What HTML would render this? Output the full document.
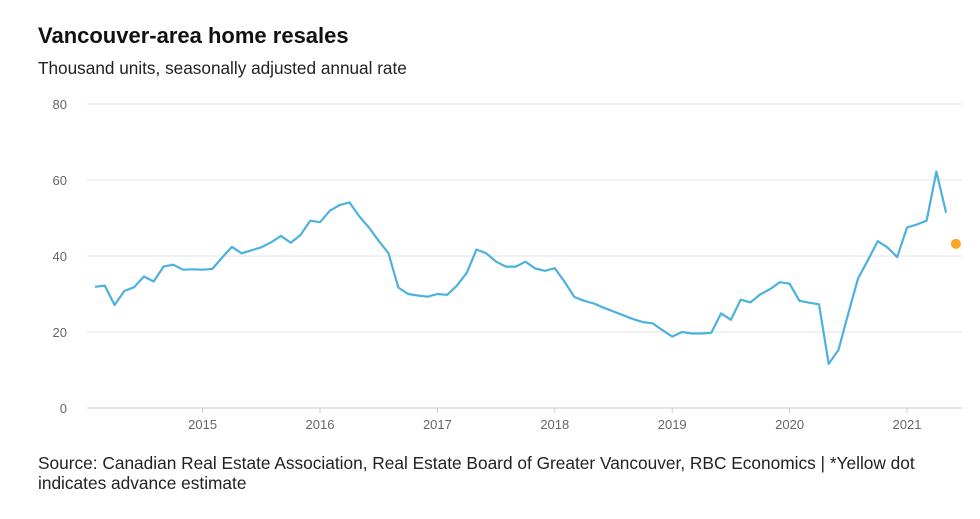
<!DOCTYPE html>
<html><head><meta charset="utf-8"><style>
body{margin:0;background:#fff;font-family:"Liberation Sans",Arial,sans-serif;}
#wrap{position:relative;width:980px;height:519px;overflow:hidden;}
h1{position:absolute;left:38px;top:23px;margin:0;font-size:22px;font-weight:bold;color:#111;}
.sub{position:absolute;left:38px;top:58px;font-size:17.2px;color:#222;}
.src{position:absolute;left:38px;top:453px;font-size:17.3px;color:#222;line-height:20px;width:900px;}
svg{position:absolute;left:0;top:0;}
</style></head><body>
<div id="wrap">
<h1>Vancouver-area home resales</h1>
<div class="sub">Thousand units, seasonally adjusted annual rate</div>
<svg id="svg" width="980" height="519"></svg>
<div class="src">Source: Canadian Real Estate Association, Real Estate Board of Greater Vancouver, RBC Economics | *Yellow dot indicates advance estimate</div>
</div>
<script>
const yTicks=[0,20,40,60,80];
const years=[2015,2016,2017,2018,2019,2020,2021];
const startYear=2014, startMonth=1; // Feb 2014 (0-based month)
const values=[31.9,32.2,27.1,30.8,31.8,34.6,33.3,37.2,37.7,36.4,36.5,
36.4,36.6,39.6,42.4,40.7,41.5,42.3,43.6,45.3,43.5,45.5,49.3,
48.9,51.9,53.4,54.1,50.5,47.5,44.0,40.7,31.7,30.0,29.6,29.3,
30.0,29.8,32.2,35.6,41.7,40.7,38.5,37.2,37.2,38.5,36.7,36.1,
36.8,33.2,29.2,28.2,27.5,26.4,25.4,24.4,23.4,22.6,22.3,20.5,
18.8,20.0,19.6,19.6,19.8,24.9,23.2,28.5,27.8,29.9,31.3,33.1,
32.7,28.2,27.7,27.3,11.6,15.3,24.9,34.1,38.9,43.9,42.3,39.7,
47.5,48.3,49.3,62.2,51.4];
const estimate=[43.2];
const NS="http://www.w3.org/2000/svg";
const svg=document.getElementById('svg');
const x0=85.2,pxYear=117.4,yBase=408,pxUnit=3.8,xL=87,xR=962;
const xs=t=>x0+(t-2014)*pxYear;
const ys=v=>yBase-v*pxUnit;
function mk(tag,attrs){const e=document.createElementNS(NS,tag);for(const k in attrs)e.setAttribute(k,attrs[k]);svg.appendChild(e);return e;}
yTicks.forEach(v=>{
  const l=mk('line',{x1:xL,x2:xR,y1:ys(v),y2:ys(v),stroke:v===0?'#ccc':'#e3e3e3','stroke-width':1});
  
  
  const t=mk('text',{x:67,y:ys(v)+5,'text-anchor':'end','font-size':13,fill:'#666','font-family':'Liberation Sans, sans-serif'});
  t.textContent=v;
  
  
});
years.forEach(yr=>{
  const x=xs(yr);
  const tk=mk('line',{x1:x,x2:x,y1:yBase,y2:yBase+5,stroke:'#ccc'});
  
  
  const t=mk('text',{x:x,y:429,'text-anchor':'middle','font-size':13,fill:'#666','font-family':'Liberation Sans, sans-serif'});
  t.textContent=yr;
  
  
});
const tOf=i=>startYear+(startMonth+i)/12;
const pts=values.map((v,i)=>xs(tOf(i)).toFixed(1)+','+ys(v).toFixed(1)).join(' ');
const pl=mk('polyline',{points:pts,fill:'none',stroke:'#4cb1df','stroke-width':2.2,'stroke-linejoin':'round'});


estimate.forEach((v,j)=>{
  const c=mk('circle',{cx:xs(tOf(values.length+j)),cy:ys(v),r:5,fill:'#f6a623'});
  
  
});
</script>
</body></html>
